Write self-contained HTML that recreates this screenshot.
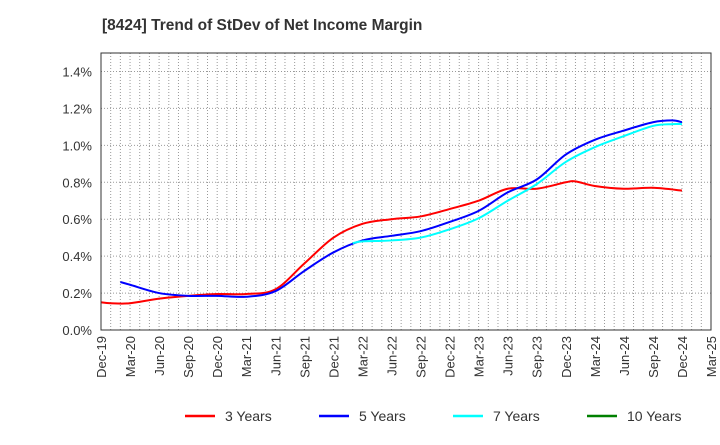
<!DOCTYPE html>
<html><head><meta charset="utf-8"><style>
body{margin:0;background:#fff;font-family:"Liberation Sans",sans-serif}
</style></head><body>
<svg id="c" width="720" height="440" xmlns="http://www.w3.org/2000/svg"></svg>
<script>
const title="[8424]  Trend of StDev of Net Income Margin";
const xTickLabels=["Dec-19","Mar-20","Jun-20","Sep-20","Dec-20","Mar-21","Jun-21","Sep-21","Dec-21","Mar-22","Jun-22","Sep-22","Dec-22","Mar-23","Jun-23","Sep-23","Dec-23","Mar-24","Jun-24","Sep-24","Dec-24","Mar-25"];
const yTicks=[0,0.2,0.4,0.6,0.8,1.0,1.2,1.4];
const seriesNames=["3 Years","5 Years","7 Years","10 Years"];
const seriesColors=["#ff0000","#0000ff","#00ffff","#008000"];
// month index (0 = Dec-19)
const m3=[0,1,3,6,9,12,15,18,21,24,27,30,33,36,39,42,45,48,49,51,54,57,60];
const v3=[0.15,0.145,0.145,0.17,0.185,0.195,0.195,0.22,0.36,0.50,0.575,0.60,0.615,0.655,0.70,0.765,0.765,0.80,0.805,0.78,0.765,0.77,0.755];
const m5=[2,3,6,9,12,15,18,21,24,27,30,33,36,39,42,45,48,51,54,57,59,60];
const v5=[0.26,0.245,0.20,0.185,0.185,0.18,0.21,0.32,0.42,0.485,0.51,0.535,0.585,0.645,0.745,0.815,0.95,1.03,1.08,1.125,1.135,1.125];
const m7=[26,27,30,33,36,39,42,45,48,51,54,57,59,60];
const v7=[0.47,0.48,0.485,0.50,0.545,0.605,0.70,0.79,0.91,0.99,1.05,1.105,1.115,1.115];
const m10=[];const v10=[];
const L=101,R=711,T=53,B=330,maxM=63,maxY=1.5;
const X=m=>L+(R-L)*m/maxM;
const Y=v=>B-(B-T)*v/maxY;
const svg=document.getElementById('c');const NS="http://www.w3.org/2000/svg";
function mk(t,a,p){const e=document.createElementNS(NS,t);for(const k in a)e.setAttribute(k,a[k]);(p||svg).appendChild(e);return e;}
let t=mk('text',{x:102,y:30,'text-anchor':'start','font-size':15.5,'font-weight':'bold',fill:'#333'});t.textContent=title;

mk('rect',{x:L,y:T,width:R-L,height:B-T,fill:'#fff'});
for(let m=1;m<maxM;m++){const l=mk('line',{x1:X(m),x2:X(m),y1:T,y2:B,stroke:'#999','stroke-dasharray':'1,2','stroke-width':1});
}
yTicks.forEach(v=>{if(v>0){const l=mk('line',{x1:L,x2:R,y1:Y(v),y2:Y(v),stroke:'#999','stroke-dasharray':'1,2'});
}
const tx=mk('text',{x:L-9,y:Y(v)+5,'text-anchor':'end','font-size':13,fill:'#333'});tx.textContent=v.toFixed(1)+'%';
});
xTickLabels.forEach((s,i)=>{const x=X(i*3);const tx=mk('text',{transform:`translate(${x+5},${B+6}) rotate(-90)`,'text-anchor':'end','font-size':13,fill:'#333'});tx.textContent=s;
});
function path(ms,vs){const p=ms.map((m,i)=>[X(m),Y(vs[i])]);if(p.length<2)return'';let d=`M${p[0][0]},${p[0][1]}`;
for(let i=0;i<p.length-1;i++){const p0=p[i-1]||p[i],p1=p[i],p2=p[i+1],p3=p[i+2]||p2;
d+=` C${p1[0]+(p2[0]-p0[0])/6},${p1[1]+(p2[1]-p0[1])/6} ${p2[0]-(p3[0]-p1[0])/6},${p2[1]-(p3[1]-p1[1])/6} ${p2[0]},${p2[1]}`;}return d;}
[[m3,v3],[m5,v5],[m7,v7],[m10,v10]].forEach((s,i)=>{const d=path(s[0],s[1]);if(!d)return;
const e=mk('path',{d:d,fill:'none',stroke:seriesColors[i],'stroke-width':2});
});
mk('rect',{x:L,y:T,width:R-L,height:B-T,fill:'none',stroke:'#333','stroke-width':1});
seriesNames.forEach((n,i)=>{const x=[185,319,453,587][i];const g=mk('g',{});

mk('line',{x1:x,x2:x+30,y1:416,y2:416,stroke:seriesColors[i],'stroke-width':2.5},g);
const tx=mk('text',{x:x+40,y:421,'font-size':14,fill:'#333'},g);tx.textContent=n;});
</script>
</body></html>
